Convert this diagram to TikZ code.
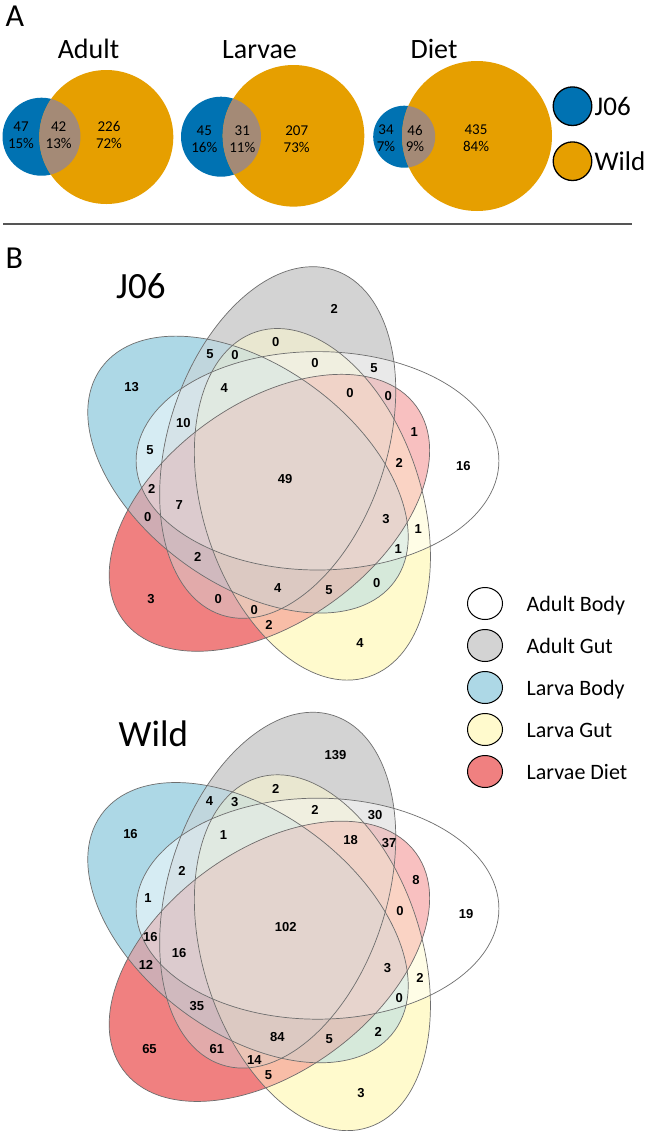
\documentclass[tikz,border=0pt]{standalone}
\usepackage{fontspec}
\setmainfont{Carlito}
\newfontfamily\numfont{Liberation Sans}
\definecolor{aBlue}{RGB}{0,114,178}
\definecolor{aOrange}{RGB}{230,159,0}
\definecolor{aOver}{RGB}{164,138,118}
\definecolor{cAB}{RGB}{255,255,255}
\definecolor{cAG}{RGB}{211,211,211}
\definecolor{cLB}{RGB}{173,216,230}
\definecolor{cLG}{RGB}{255,250,205}
\definecolor{cLD}{RGB}{240,128,128}
\definecolor{vlinecol}{RGB}{110,110,110}
\definecolor{seplinecol}{RGB}{85,85,85}
\tikzset{
  el0/.style={shift={(317.5,460.8)}},
  el1/.style={shift={(277.7,442.5)},rotate=72},
  el2/.style={shift={(248.0,474.6)},rotate=144},
  el3/.style={shift={(312.4,504.3)},rotate=288},
  el4/.style={shift={(269.4,512.8)},rotate=216},
  vennline/.style={draw=vlinecol, line width=0.7pt},
  vnum/.style={font=\numfont\bfseries\fontsize{13}{13}\selectfont, inner sep=0pt},
  anum/.style={font=\fontsize{15}{16.6}\selectfont, align=center, inner sep=0pt},
  atitle/.style={font=\fontsize{28}{28}\selectfont, anchor=base, inner sep=0pt},
  ptitle/.style={font=\fontsize{32}{32}\selectfont, anchor=base west, inner sep=0pt},
  vtitle/.style={font=\fontsize{37}{37}\selectfont, anchor=base west, inner sep=0pt},
  alegtext/.style={font=\fontsize{27}{27}\selectfont, anchor=base west, inner sep=0pt},
  blegtext/.style={font=\fontsize{22}{22}\selectfont, anchor=base west, inner sep=0pt},
  alegcirc/.style={draw=black, line width=1.3pt},
  blegcirc/.style={draw=black, line width=1pt},
}
\newcommand\ellclip[1]{\clip[el#1] (0,0) ellipse [x radius=181.4pt, y radius=109.2pt];}
\newcommand\elldraw[1]{\draw[vennline, el#1] (0,0) ellipse [x radius=181.4pt, y radius=109.2pt];}
\newcommand\vennfills{%
  \foreach \k in {1,...,5}{%
    \foreach \n in {1,...,31}{%
      \pgfmathtruncatemacro\bA{mod(\n,2)}%
      \pgfmathtruncatemacro\bB{mod(floor(\n/2),2)}%
      \pgfmathtruncatemacro\bC{mod(floor(\n/4),2)}%
      \pgfmathtruncatemacro\bD{mod(floor(\n/8),2)}%
      \pgfmathtruncatemacro\bE{mod(floor(\n/16),2)}%
      \pgfmathtruncatemacro\ncnt{\bA+\bB+\bC+\bD+\bE}%
      \ifnum\ncnt=\k\relax
        \pgfmathtruncatemacro\rrv{round((\bA*255+\bB*211+\bC*173+\bD*255+\bE*240)/\ncnt)}%
        \pgfmathtruncatemacro\ggv{round((\bA*255+\bB*211+\bC*216+\bD*250+\bE*128)/\ncnt)}%
        \pgfmathtruncatemacro\bbv{round((\bA*255+\bB*211+\bC*230+\bD*205+\bE*128)/\ncnt)}%
        \definecolor{regcol}{RGB}{\rrv,\ggv,\bbv}%
        \begin{scope}
          \ifnum\bA=1 \ellclip{0}\fi
          \ifnum\bB=1 \ellclip{1}\fi
          \ifnum\bC=1 \ellclip{2}\fi
          \ifnum\bD=1 \ellclip{3}\fi
          \ifnum\bE=1 \ellclip{4}\fi
          \fill[regcol] (60,240) rectangle (520,700);
        \end{scope}
      \fi
    }%
  }%
  \elldraw{0}\elldraw{1}\elldraw{2}\elldraw{3}\elldraw{4}%
}
\newcommand\apair[6]{%
  \fill[aBlue] (#1,#2) circle [radius=#3pt];
  \fill[aOrange] (#4,#5) circle [radius=#6pt];
  \begin{scope}
    \clip (#1,#2) circle [radius=#3pt];
    \fill[aOver] (#4,#5) circle [radius=#6pt];
  \end{scope}
}
\begin{document}
\begin{tikzpicture}[x=1pt,y=-1pt]
\useasboundingbox (0,0) rectangle (645,1133);
\fill[white] (0,0) rectangle (645,1133);
% ---------- Panel A ----------
\node[ptitle] (labA) at (5.5,26.7) {A};
\apair{41.5}{136.7}{39}{106.3}{137}{67}
\apair{221}{136.7}{40}{293.5}{135.8}{70.8}
\apair{404.2}{136.7}{31}{477}{136}{75}
\node[atitle] (tAdult) at (88.5,58.3) {Adult};
\node[atitle] (tLarvae) at (259.5,58.3) {Larvae};
\node[atitle] (tDiet) at (434,58.3) {Diet};
\node[anum] (a1) at (21,135) {47\\15\%};
\node[anum] (a2) at (58.7,135) {42\\13\%};
\node[anum] (a3) at (109,135) {226\\72\%};
\node[anum] (a4) at (204.3,139.2) {45\\16\%};
\node[anum] (a5) at (242.3,139.2) {31\\11\%};
\node[anum] (a6) at (296.7,139.2) {207\\73\%};
\node[anum] (a7) at (386,138.3) {34\\7\%};
\node[anum] (a8) at (415,138.3) {46\\9\%};
\node[anum] (a9) at (476,138.3) {435\\84\%};
\filldraw[alegcirc, fill=aBlue] (572.5,106.2) circle [radius=19.3pt];
\filldraw[alegcirc, fill=aOrange] (572.5,161.2) circle [radius=19.3pt];
\node[alegtext] (lJ06) at (594.5,115) {J06};
\node[alegtext] (lWild) at (594.5,170) {Wild};
% separator
\coordinate (sepL) at (3,224);
\coordinate (sepR) at (632,224);
\draw[seplinecol, line width=1.1pt] (sepL) -- (sepR);
% ---------- Panel B ----------
\node[ptitle] (labB) at (5.5,268.3) {B};
\node[vtitle] (tJ06) at (116,298) {J06};
\node[vtitle] (tWild) at (118.5,746.7) {Wild};
\begin{scope}
  \vennfills
  \foreach \x/\y/\a/\b [count=\i] in {334.3/309/2/139, 275.7/342.3/0/2, 210/354/5/4, 235/355/0/3, 315/363.3/0/2, 374/368.3/5/30, 131.7/386.7/13/16, 224.3/387.7/4/1, 350/392.7/0/18, 388.3/396/0/37, 183.3/423.3/10/2, 414.3/432.3/1/8, 150/450/5/1, 399.3/462.7/2/0, 463.3/466/16/19, 285/479/49/102, 151.7/489/2/16, 179.3/505/7/16, 147.7/516.7/0/12, 386/519.3/3/3, 418.3/529/1/2, 398.3/548.8/1/0, 197.7/557.3/2/35, 376.7/582.7/0/2, 277.7/587.7/4/84, 329/590/5/5, 151/599.3/3/65, 218.3/599.3/0/61, 254.3/610/0/14, 269/625/2/5, 360/643.3/4/3}{%
    \node[vnum] (J\i) at (\x,\y) {\a};
  }
\end{scope}
\begin{scope}[shift={(0,927.5)}, yscale=1.012, shift={(0,-479.4)}]
  \vennfills
  \foreach \x/\y/\a/\b [count=\i] in {335.5/309/2/139, 275.7/342.3/0/2, 209.5/354/5/4, 234.7/355/0/3, 315/363.3/0/2, 375/368.3/5/30, 130.5/386.7/13/16, 223.5/387.7/4/1, 350.7/392.7/0/18, 389/396/0/37, 182/423.3/10/2, 416/432.3/1/8, 148/450/5/1, 400/462.7/2/0, 466/466/16/19, 285.7/479/49/102, 150.3/489/2/16, 179.2/505/7/16, 146/516.7/0/12, 387.5/519.3/3/3, 420/529/1/2, 399.3/548.8/1/0, 196.9/557.3/2/35, 378.3/582.7/0/2, 277.4/587.7/4/84, 329.3/590/5/5, 149.5/599.3/3/65, 216.9/599.3/0/61, 254.3/610/0/14, 268.5/625/2/5, 361/643.3/4/3}{%
    \node[vnum] (W\i) at (\x,\y) {\b};
  }
\end{scope}
% legend B
\filldraw[blegcirc, fill=cAB] (485,603.5) ellipse [x radius=17.5pt, y radius=16pt];
\filldraw[blegcirc, fill=cAG] (485,645.5) ellipse [x radius=17.5pt, y radius=16pt];
\filldraw[blegcirc, fill=cLB] (485,687.5) ellipse [x radius=17.5pt, y radius=16pt];
\filldraw[blegcirc, fill=cLG] (485,729.5) ellipse [x radius=17.5pt, y radius=16pt];
\filldraw[blegcirc, fill=cLD] (485,771.5) ellipse [x radius=17.5pt, y radius=16pt];
\node[blegtext] (lAB) at (526.5,611.3) {Adult Body};
\node[blegtext] (lAG) at (526.5,653.3) {Adult Gut};
\node[blegtext] (lLB) at (526.5,695.3) {Larva Body};
\node[blegtext] (lLG) at (526.5,737.3) {Larva Gut};
\node[blegtext] (lLD) at (526.5,779.3) {Larvae Diet};
\end{tikzpicture}
\end{document}
